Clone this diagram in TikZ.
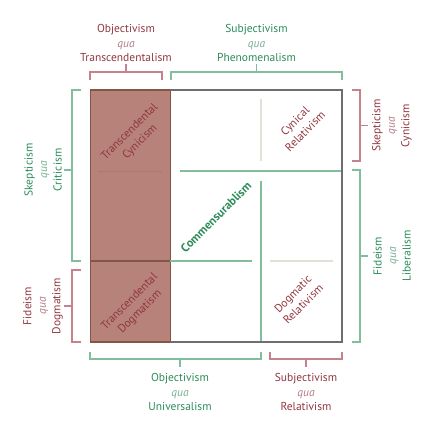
\documentclass[tikz,border=0pt]{standalone}
\usepackage{fontspec}
\setmainfont{PT Sans}
\definecolor{brtext}{RGB}{145,55,65}
\definecolor{grtext}{RGB}{45,140,90}
\definecolor{grqua}{RGB}{120,175,145}
\definecolor{brqua}{RGB}{175,125,130}
\definecolor{grline}{RGB}{130,190,155}
\definecolor{brline}{RGB}{195,130,140}
\definecolor{ltline}{RGB}{225,225,215}
\definecolor{brfill}{RGB}{182,130,122}
\definecolor{brdark}{RGB}{130,85,70}
\definecolor{frame}{RGB}{110,110,110}
\newcommand{\quag}{{\color{grqua}\itshape qua}}
\newcommand{\quab}{{\color{brqua}\itshape qua}}
\begin{document}
\begin{tikzpicture}[x=1pt,y=-1pt,
  lbl/.style={font=\fontsize{11.5}{14.5}\selectfont,align=center,inner sep=0pt},
  grlbl/.style={lbl,text=grtext},
  brlbl/.style={lbl,text=brtext},
  grbr/.style={draw=grline,line width=1.2pt},
  brbr/.style={draw=brline,line width=1.2pt}]
\useasboundingbox (0,0) rectangle (432,432);
% brown column
\fill[brfill] (90,90) rectangle (170,342);
\draw[brdark,line width=1pt] (90,90) -- (90,342);
\draw[brdark,line width=1pt] (170,90) -- (170,342);
\draw[brdark,line width=1.2pt] (90,261) -- (170,261);
\draw[brfill!80!brdark,line width=0.8pt] (98,171) -- (162,171);
% inner lines
\draw[grline,line width=1.2pt] (180,171) -- (342,171);
\draw[grline,line width=1.2pt] (261,181) -- (261,342);
\draw[grline,line width=1.2pt] (170,261) -- (252,261);
\draw[ltline,line width=1.2pt] (261,99) -- (261,161);
\draw[ltline,line width=1.2pt] (270,261) -- (333,261);
% frame
\draw[frame,line width=1.5pt] (170,90) -- (342,90) -- (342,342) -- (170,342);
\draw[brdark,line width=1.5pt] (90,90) -- (170,90);
\draw[brdark,line width=1.5pt] (90,342) -- (170,342);
% top brackets
\draw[brbr] (90,80) -- (90,72) -- (162,72) -- (162,80) (126,72) -- (126,64);
\draw[grbr] (171,80) -- (171,72) -- (342,72) -- (342,80) (256.5,72) -- (256.5,64);
% bottom brackets
\draw[grbr] (90,352) -- (90,359) -- (261,359) -- (261,352) (180,359) -- (180,367);
\draw[brbr] (270,352) -- (270,359) -- (342,359) -- (342,352) (306,359) -- (306,367);
% left brackets
\draw[grbr] (81,90) -- (72,90) -- (72,261) -- (81,261) (72,170) -- (64,170);
\draw[brbr] (81,270) -- (72,270) -- (72,342) -- (81,342) (72,306) -- (64,306);
% right brackets
\draw[brbr] (352,90) -- (360,90) -- (360,161) -- (352,161) (360,125.5) -- (368,125.5);
\draw[grbr] (352,170) -- (360,170) -- (360,342) -- (352,342) (360,256) -- (368,256);
% labels
\node[brlbl] (t1) at (126,43) {Objectivism\\\quab\\Transcendentalism};
\node[grlbl] (t2) at (256.5,43) {Subjectivism\\\quag\\Phenomenalism};
\node[grlbl] (b1) at (180,392) {Objectivism\\\quag\\Universalism};
\node[brlbl] (b2) at (306,392) {Subjectivism\\\quab\\Relativism};
\node[grlbl,rotate=90] (l1) at (43,170) {Skepticism\\\quag\\Criticism};
\node[brlbl,rotate=90] (l2) at (43,306) {Fideism\\\quab\\Dogmatism};
\node[brlbl,rotate=90] (r1) at (392,125.5) {Skepticism\\\quab\\Cynicism};
\node[grlbl,rotate=90] (r2) at (392,256) {Fideism\\\quag\\Liberalism};
% cell labels
\node[brlbl,rotate=45] (c1) at (135,137) {Transcendental\\Cynicism};
\node[brlbl,rotate=45] (c2) at (135,307) {Transcendental\\Dogmatism};
\node[brlbl,rotate=45] (c3) at (300,126) {Cynical\\Relativism};
\node[brlbl,rotate=45] (c4) at (298,299) {Dogmatic\\Relativism};
\node[grlbl,rotate=45,font=\fontsize{12}{14.5}\selectfont\bfseries] (c5) at (216,217) {Commensurablism};
\end{tikzpicture}
\end{document}
